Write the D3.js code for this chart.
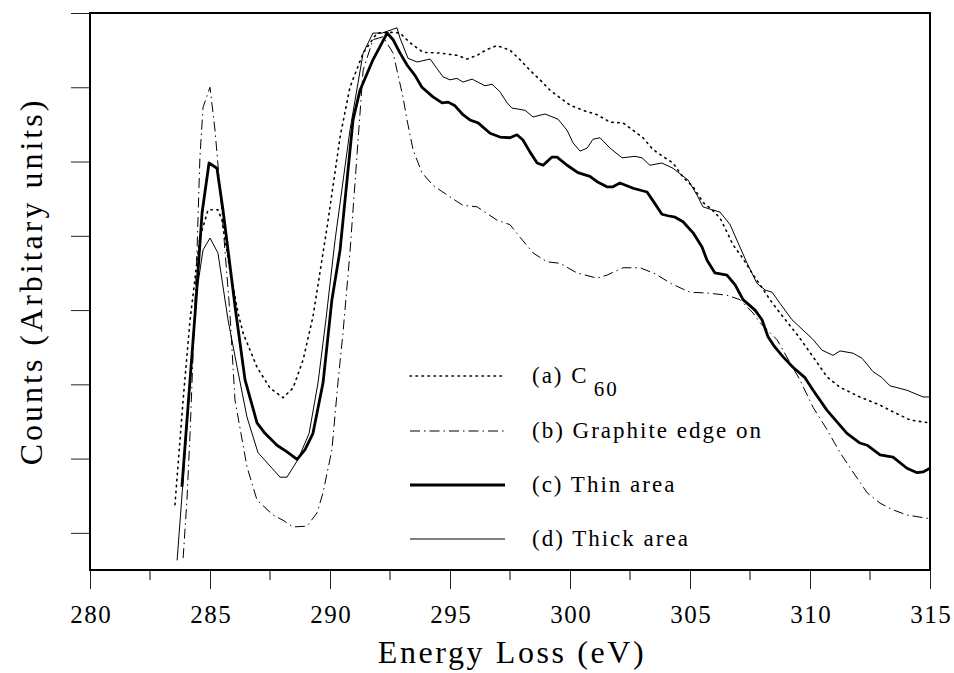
<!DOCTYPE html>
<html>
<head>
<meta charset="utf-8">
<script src="https://cdn.jsdelivr.net/npm/d3@7"></script>
<style>
  body { margin: 0; background: #fff; }
  text { font-family: "Liberation Serif", "Times New Roman", serif; fill: #000; }
</style>
</head>
<body>
<svg id="chart" width="954" height="673"></svg>
<script>
// [energy loss (eV), counts (arb.)]
const c60 = [[283.54,0.88],[283.88,2.29],[284.17,3.37],[284.58,4.48],[284.92,4.85],[285.33,4.85],[285.5,4.71],[285.83,4.04],[286.17,3.46],[286.38,3.19],[286.96,2.73],[287.5,2.45],[288.04,2.32],[288.46,2.45],[288.88,2.83],[289.29,3.41],[289.88,4.62],[290.42,5.83],[290.83,6.5],[291.38,6.96],[291.96,7.23],[292.63,7.24],[292.92,7.23],[293.33,7.1],[293.88,6.97],[294.58,6.96],[295.29,6.93],[295.71,6.88],[296.13,6.93],[296.54,7.01],[296.96,7.06],[297.5,7.0],[297.92,6.87],[298.33,6.73],[298.75,6.6],[299.17,6.46],[299.58,6.36],[300.0,6.26],[300.54,6.19],[301.13,6.13],[301.67,6.03],[302.21,6.02],[302.63,5.92],[303.04,5.82],[303.46,5.66],[303.96,5.55],[304.29,5.48],[304.71,5.29],[305.13,5.16],[305.54,4.95],[305.92,4.85],[306.25,4.74],[306.54,4.55],[306.79,4.38],[307.17,4.21],[307.58,4.0],[307.92,3.84],[308.33,3.64],[308.75,3.46],[309.17,3.29],[309.58,3.12],[310.13,2.87],[310.71,2.6],[311.25,2.46],[312.08,2.33],[312.92,2.22],[313.46,2.13],[314.17,2.02],[315.0,1.98]]

const graphite = [[283.88,0.16],[284.04,0.94],[284.17,1.84],[284.46,4.31],[284.58,5.56],[284.71,6.23],[285.0,6.5],[285.21,5.92],[285.5,4.81],[285.83,3.46],[286.04,2.29],[286.54,1.39],[286.96,0.94],[287.63,0.74],[288.04,0.67],[288.46,0.58],[289.04,0.59],[289.46,0.77],[289.71,1.04],[290.08,1.62],[290.33,2.52],[290.54,3.19],[290.83,4.27],[291.13,5.61],[291.38,6.73],[291.79,7.14],[292.21,7.18],[292.63,6.96],[293.04,6.37],[293.21,6.06],[293.46,5.66],[293.83,5.35],[294.29,5.18],[294.88,5.05],[295.54,4.91],[296.13,4.89],[296.96,4.71],[297.5,4.65],[297.92,4.48],[298.46,4.27],[299.04,4.15],[299.58,4.13],[300.29,4.0],[301.13,3.93],[301.54,3.97],[302.21,4.07],[302.92,4.07],[303.54,3.99],[304.25,3.85],[305.0,3.74],[305.71,3.73],[306.54,3.7],[307.08,3.64],[307.63,3.46],[307.92,3.33],[308.63,3.1],[309.17,2.79],[309.58,2.56],[310.13,2.19],[310.71,1.89],[311.25,1.58],[311.79,1.32],[312.38,1.04],[312.92,0.9],[313.46,0.81],[314.04,0.74],[315.0,0.69]]

const thin = [[283.83,1.12],[284.38,3.46],[284.67,4.81],[284.96,5.48],[285.29,5.41],[285.54,4.85],[286.08,3.46],[286.46,2.56],[286.96,1.98],[287.29,1.84],[287.79,1.68],[288.21,1.59],[288.63,1.49],[288.96,1.62],[289.29,1.84],[289.71,2.52],[290.08,3.64],[290.42,4.31],[290.96,6.06],[291.25,6.46],[291.79,6.87],[292.38,7.23],[292.63,7.14],[292.92,6.96],[293.21,6.8],[293.54,6.66],[293.83,6.5],[294.29,6.37],[294.67,6.29],[294.92,6.3],[295.21,6.25],[295.54,6.13],[295.83,6.06],[296.17,6.02],[296.67,5.88],[297.08,5.83],[297.5,5.82],[297.79,5.86],[298.04,5.79],[298.33,5.63],[298.63,5.48],[298.88,5.45],[299.25,5.56],[299.46,5.56],[299.88,5.45],[300.33,5.35],[300.83,5.3],[301.17,5.22],[301.54,5.16],[301.79,5.16],[302.08,5.21],[302.63,5.14],[303.21,5.09],[303.46,4.97],[303.83,4.79],[304.08,4.77],[304.38,4.75],[304.71,4.69],[305.13,4.54],[305.5,4.35],[305.71,4.17],[306.04,4.0],[306.54,3.97],[306.88,3.84],[307.21,3.64],[307.71,3.5],[308.0,3.37],[308.25,3.14],[308.54,3.0],[308.88,2.87],[309.29,2.73],[309.79,2.59],[310.13,2.42],[310.71,2.15],[311.54,1.84],[312.08,1.71],[312.38,1.68],[312.92,1.55],[313.46,1.52],[314.04,1.37],[314.46,1.31],[314.71,1.32],[315.0,1.37]]

const thick = [[283.63,0.13],[283.88,1.21],[284.17,2.56],[284.46,3.77],[284.71,4.31],[285.0,4.47],[285.33,4.27],[285.75,3.37],[286.13,2.73],[286.54,2.06],[287.0,1.58],[287.92,1.25],[288.21,1.25],[288.67,1.49],[289.13,1.84],[289.5,2.52],[289.83,3.37],[290.21,4.44],[290.83,5.92],[291.38,6.96],[291.79,7.23],[292.17,7.23],[292.79,7.3],[292.92,7.16],[293.25,6.89],[293.63,6.84],[294.17,6.88],[294.71,6.64],[295.0,6.6],[295.29,6.62],[295.54,6.57],[295.92,6.61],[296.46,6.52],[296.75,6.54],[297.08,6.44],[297.38,6.29],[297.58,6.22],[298.13,6.19],[298.46,6.1],[298.96,6.14],[299.5,6.07],[299.88,5.92],[300.13,5.75],[300.42,5.64],[300.71,5.68],[300.96,5.8],[301.25,5.82],[301.67,5.68],[302.17,5.55],[302.71,5.57],[303.0,5.55],[303.33,5.45],[303.83,5.48],[304.29,5.41],[304.92,5.25],[305.29,5.05],[305.54,4.89],[305.92,4.85],[306.25,4.82],[306.67,4.65],[307.08,4.35],[307.38,4.13],[307.79,3.86],[308.13,3.77],[308.42,3.74],[308.75,3.59],[309.25,3.37],[309.71,3.23],[310.08,3.12],[310.5,2.96],[310.96,2.89],[311.25,2.95],[311.79,2.92],[312.17,2.85],[312.63,2.67],[313.0,2.59],[313.33,2.48],[314.04,2.42],[314.71,2.33],[315.0,2.33]]

const xMajor = [280, 285, 290, 295, 300, 305, 310, 315]
const xMinor = [282.5, 287.5, 292.5, 297.5, 302.5, 307.5, 312.5]
const yTicks = [0.5, 1.5, 2.5, 3.5, 4.5, 5.5, 6.5, 7.5]

const series = [
  {name: '(a) C', sub: '60', data: c60, width: 1.6, dash: '1.4,4.6', cap: 'round'},
  {name: '(b) Graphite edge on', data: graphite, width: 1, dash: '10,4,1.5,4', cap: 'butt'},
  {name: '(c) Thin area', data: thin, width: 2.8, dash: null, cap: 'butt'},
  {name: '(d) Thick area', data: thick, width: 1, dash: null, cap: 'butt'}
]

const svg = d3.select('#chart')
const m = {left: 90, right: 930, top: 13, bottom: 570}

const x = d3.scaleLinear().domain([280, 315]).range([m.left, m.right])
const y = d3.scaleLinear().domain([0, 7.5]).range([m.bottom, m.top])

svg.append('clipPath').attr('id', 'plot')
  .append('rect').attr('x', m.left).attr('y', m.top)
  .attr('width', m.right - m.left).attr('height', m.bottom - m.top)

// x axis: major + minor ticks drawn outward
const xAxis = svg.append('g').attr('transform', `translate(0,${m.bottom})`)
xAxis.call(d3.axisBottom(x).tickValues(xMajor).tickSize(19).tickPadding(16).tickFormat(d3.format('d')))
xAxis.append('g').selectAll('line').data(xMinor).join('line')
  .attr('x1', d => x(d)).attr('x2', d => x(d)).attr('y1', 0).attr('y2', 10)
  .attr('stroke', '#000').attr('stroke-width', 1)
xAxis.selectAll('.tick text')
  .attr('font-size', 25).style('letter-spacing', '1.5px').attr('dx', '0.75px')
  .attr('font-family', '"Liberation Serif", serif')

const yAxis = svg.append('g').attr('transform', `translate(${m.left},0)`)
yAxis.call(d3.axisLeft(y).tickValues(yTicks).tickSize(19).tickFormat(''))

svg.selectAll('.domain').remove()
svg.selectAll('.tick line').attr('stroke', '#222').attr('stroke-width', 1)

// frame
svg.append('rect').attr('x', m.left).attr('y', m.top)
  .attr('width', m.right - m.left).attr('height', m.bottom - m.top)
  .attr('fill', 'none').attr('stroke', '#000').attr('stroke-width', 2)

const line = d3.line().x(d => x(d[0])).y(d => y(d[1]))

svg.append('g').attr('clip-path', 'url(#plot)')
  .selectAll('path').data(series).join('path')
  .attr('d', d => line(d.data))
  .attr('fill', 'none')
  .attr('stroke', '#000')
  .attr('stroke-width', d => d.width)
  .attr('stroke-dasharray', d => d.dash)
  .attr('stroke-linecap', d => d.cap)
  .attr('stroke-linejoin', 'round')

// legend
const legend = svg.append('g')
const rowY = [376, 431, 485, 539]
series.forEach((s, i) => {
  legend.append('line')
    .attr('x1', 410).attr('x2', 505).attr('y1', rowY[i]).attr('y2', rowY[i])
    .attr('stroke', '#000').attr('stroke-width', s.width)
    .attr('stroke-dasharray', s.dash).attr('stroke-linecap', s.cap)
  const t = legend.append('text')
    .attr('x', 532).attr('y', rowY[i] + 7)
    .attr('font-size', 23).style('letter-spacing', '2px')
    .text(s.name)
  if (s.sub) {
    t.append('tspan').attr('dx', 5).attr('dy', 13).attr('font-size', 21).text(s.sub)
  }
})

// axis titles
svg.append('text')
  .attr('x', (m.left + m.right) / 2 + 2).attr('y', 663)
  .attr('text-anchor', 'middle')
  .attr('font-size', 32).style('letter-spacing', '2.6px')
  .text('Energy Loss (eV)')

svg.append('text')
  .attr('transform', `translate(42,${(m.top + m.bottom) / 2 - 10}) rotate(-90)`)
  .attr('text-anchor', 'middle')
  .attr('font-size', 32).style('letter-spacing', '3px')
  .text('Counts (Arbitary units)')
</script>
</body>
</html>
